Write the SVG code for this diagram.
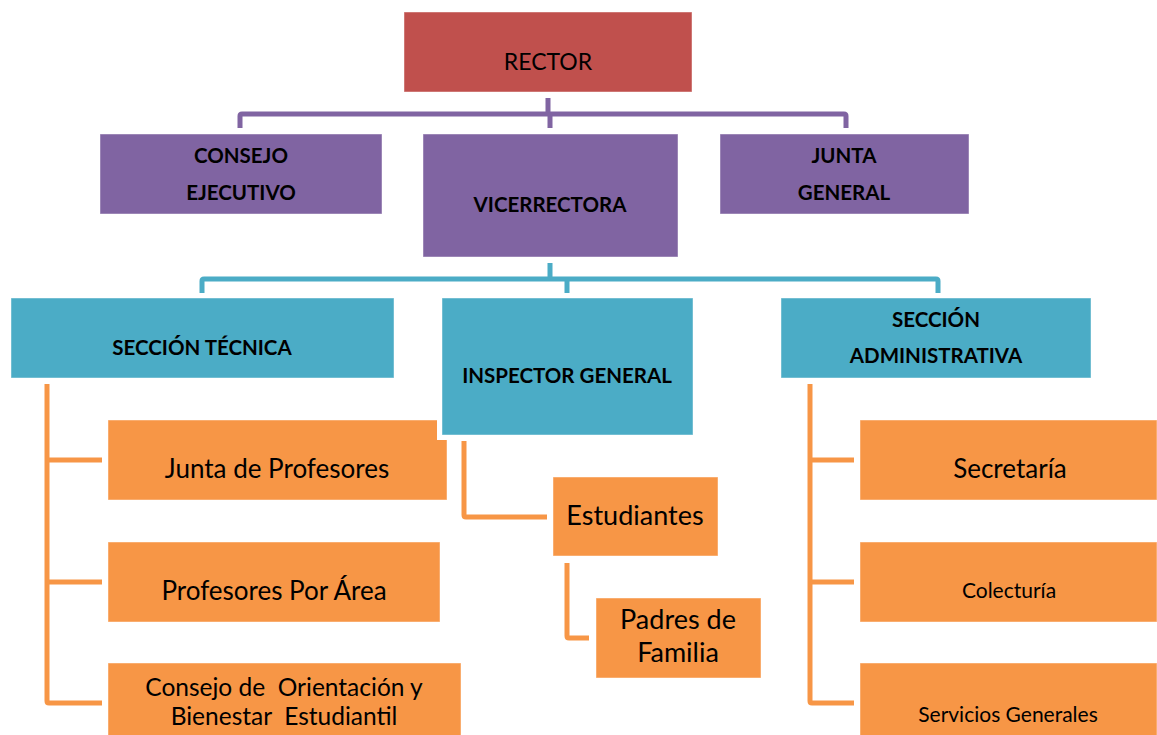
<svg xmlns="http://www.w3.org/2000/svg" width="1157" height="735" viewBox="0 0 1157 735">
<style>
  .box { stroke: #ffffff; stroke-opacity: 0.45; stroke-width: 1; }
  .red { fill: #C0504D; }
  .pur { fill: #8064A2; }
  .cya { fill: #4BACC6; }
  .ora { fill: #F79646; }
  text { font-family: Lato, "Open Sans", "Liberation Sans", sans-serif; fill: #000; text-anchor: middle; white-space: pre; }
  .b { font-weight: bold; font-size: 20.5px; }
  .r { font-size: 26px; }
  .s { font-size: 21px; }
  .cp { fill: none; stroke: #8064A2; stroke-width: 5; stroke-linejoin: round; }
  .cc { fill: none; stroke: #4BACC6; stroke-width: 5; stroke-linejoin: round; }
  .co { fill: none; stroke: #F79646; stroke-width: 5; stroke-linejoin: round; }
</style>
<rect width="1157" height="735" fill="#ffffff"/>
<g id="connectors">
  <path class="cp" d="M548 98 V114 M240 128 V116 Q240 114 242 114 H844 Q846 114 846 116 V128 M550 114 V128"/>
  <path class="cc" d="M550 263 V279 M202 293 V281 Q202 279 204 279 H936 Q938 279 938 281 V293 M567 279 V293"/>
  <path class="co" d="M47 384 V701 Q47 703 49 703 H102 M47 460 H102 M47 582 H102"/>
  <path class="co" d="M464 441 V515 Q464 517 466 517 H547"/>
  <path class="co" d="M567 563 V636 Q567 638 569 638 H589"/>
  <path class="co" d="M810 384 V701 Q810 703 812 703 H854 M810 460 H854 M810 582 H854"/>
</g>
<g id="rector"><rect class="box red" x="404" y="12" width="288" height="80"/><text x="548" y="70" style="font-size:23px">RECTOR</text></g>
<g id="consejo-ejecutivo"><rect class="box pur" x="100" y="134" width="282" height="80"/><text class="b" x="241" y="163">CONSEJO</text><text class="b" x="241" y="200">EJECUTIVO</text></g>
<g id="vicerrectora"><rect class="box pur" x="423" y="134" width="255" height="123"/><text class="b" x="550" y="212">VICERRECTORA</text></g>
<g id="junta-general"><rect class="box pur" x="720" y="134" width="249" height="80"/><text class="b" x="844" y="163">JUNTA</text><text class="b" x="844" y="200">GENERAL</text></g>
<g id="seccion-tecnica"><rect class="box cya" x="11" y="298" width="383" height="80"/><text class="b" x="202" y="355">SECCIÓN TÉCNICA</text></g>
<g id="seccion-administrativa"><rect class="box cya" x="781" y="298" width="310" height="80"/><text class="b" x="936" y="327">SECCIÓN</text><text class="b" x="936" y="363">ADMINISTRATIVA</text></g>
<g id="junta-profesores"><rect class="box ora" x="108" y="420" width="339" height="80"/><text class="r" x="277" y="478">Junta de Profesores</text></g>
<g id="inspector-general"><rect x="437" y="293" width="261" height="147" fill="#ffffff"/><rect class="box cya" x="442" y="298" width="251" height="137"/><text class="b" x="567" y="383">INSPECTOR GENERAL</text></g>
<g id="profesores-area"><rect class="box ora" x="108" y="542" width="332" height="80"/><text class="r" x="274" y="600">Profesores Por Área</text></g>
<g id="consejo-orientacion"><rect class="box ora" x="108" y="663" width="353" height="80"/><text x="284" y="696" style="font-size:24.5px">Consejo de  Orientación y</text><text x="284" y="725" style="font-size:24.5px">Bienestar  Estudiantil</text></g>
<g id="estudiantes"><rect class="box ora" x="553" y="477" width="165" height="79"/><text x="635" y="525" style="font-size:27px">Estudiantes</text></g>
<g id="padres-familia"><rect class="box ora" x="596" y="598" width="165" height="80"/><text x="678" y="629" style="font-size:27px">Padres de</text><text x="678" y="662" style="font-size:27px">Familia</text></g>
<g id="secretaria"><rect class="box ora" x="860" y="420" width="297" height="80"/><text class="r" x="1010" y="478">Secretaría</text></g>
<g id="colecturia"><rect class="box ora" x="860" y="542" width="297" height="80"/><text class="s" x="1009" y="598">Colecturía</text></g>
<g id="servicios-generales"><rect class="box ora" x="860" y="663" width="297" height="80"/><text class="s" x="1008" y="722">Servicios Generales</text></g>
</svg>
